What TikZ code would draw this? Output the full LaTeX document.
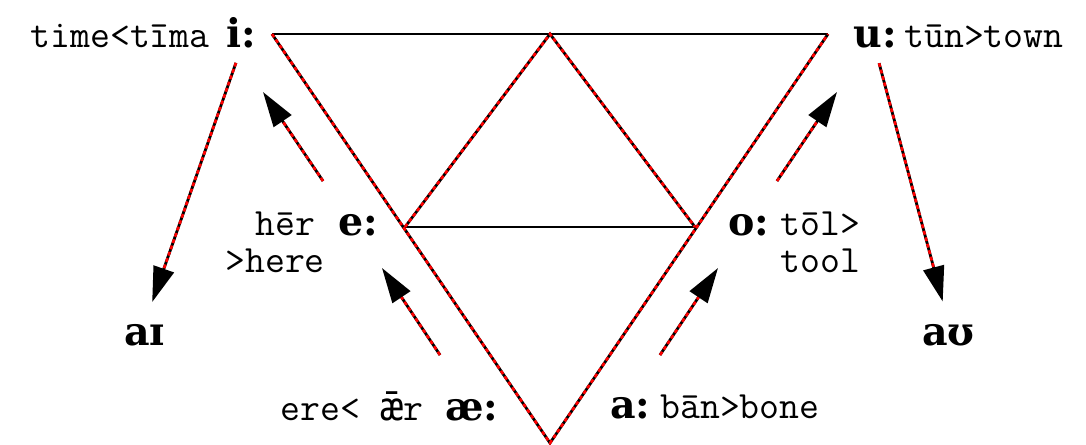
\documentclass[tikz,border=0pt]{standalone}
\usepackage{fontspec}
\newfontfamily\vowelfont{DejaVu Serif}
\newfontfamily\altmono{DejaVu Sans Mono}
\usetikzlibrary{arrows.meta}

\tikzset{
    word/.style={inner sep=0pt, font=\ttfamily\fontsize{22}{24}\selectfont},
    vowel/.style={inner sep=0pt, font=\vowelfont\bfseries\fontsize{22.5}{25}\selectfont},
    blackline/.style={line width=1.4pt, black},
    redline/.style={line width=1.6pt, black,
        postaction={draw=red, line width=1.5pt, dash pattern=on 2.2pt off 1.6pt}},
    push/.style={line width=1.6pt, black, -{Triangle[length=20pt, width=12pt]},
        postaction={draw=red, -, line width=1.5pt, dash pattern=on 2.2pt off 1.6pt, shorten >=#1}},
    push/.default=20pt
}

\begin{document}
\begin{tikzpicture}[x=0.02cm, y=-0.02cm]
    \useasboundingbox (0,0) rectangle (1086,444);

    % Corners of the triangles
    \coordinate (top left) at (272,34);
    \coordinate (top right) at (828,34);
    \coordinate (top mid) at (550,34);
    \coordinate (bottom) at (550,443);
    \coordinate (left mid) at (405,227);
    \coordinate (right mid) at (695,227);

    % Draw nodes
    \node[vowel, anchor=base west] (i) at (226,47) {i:};
    \node[word, anchor=base east] (iword) at (210,47) {time<tīma};
    \node[vowel, anchor=base west] (u) at (853,47) {u:};
    \node[word, anchor=base west] (uword) at (904,47) {tūn>town};
    \node[vowel, anchor=base west] (e) at (338,235) {e:};
    \node[word, anchor=base west] (eword) at (255,235) {hēr};
    \node[word, anchor=base west] (eword2) at (225,272) {>here};
    \node[vowel, anchor=base west] (o) at (728,235) {o:};
    \node[word, anchor=base west] (oword) at (780,235) {tōl>};
    \node[word, anchor=base west] (oword2) at (780,272) {tool};
    \node[vowel, anchor=base west] (ae) at (445,420) {æ:};
    \node[word, anchor=base east] (aeword) at (424,420) {ere< {\altmono ǣ}r};
    \node[vowel, anchor=base west] (a) at (610,418) {a:};
    \node[word, anchor=base west] (aword) at (660,418) {bān>bone};
    \node[vowel, anchor=base west] (ai) at (124,345) {aɪ};
    \node[vowel, anchor=base west] (au) at (922,345) {aʊ};

    % Draw connections
    \draw[blackline] (top left) -- (top right);
    \draw[blackline] (left mid) -- (right mid);
    \draw[redline] (top left) -- (bottom) -- (top right);
    \draw[redline] (left mid) -- (top mid) -- (right mid);

    % Arrows of the shift
    \draw[push=33pt, shorten <=9pt, shorten >=13pt] (i.south) -- (ai.north);
    \draw[push=33pt, shorten <=9pt, shorten >=13pt] (u.south) -- (au.north);
    \coordinate (e up tail) at (323,181);
    \coordinate (e up tip) at (263,92);
    \coordinate (ae up tail) at (440,355);
    \coordinate (ae up tip) at (382,268);
    \coordinate (o up tail) at (777,181);
    \coordinate (o up tip) at (837,92);
    \coordinate (a up tail) at (660,355);
    \coordinate (a up tip) at (718,268);
    \draw[push] (e up tail) -- (e up tip);
    \draw[push] (ae up tail) -- (ae up tip);
    \draw[push] (o up tail) -- (o up tip);
    \draw[push] (a up tail) -- (a up tip);
\end{tikzpicture}
\end{document}
